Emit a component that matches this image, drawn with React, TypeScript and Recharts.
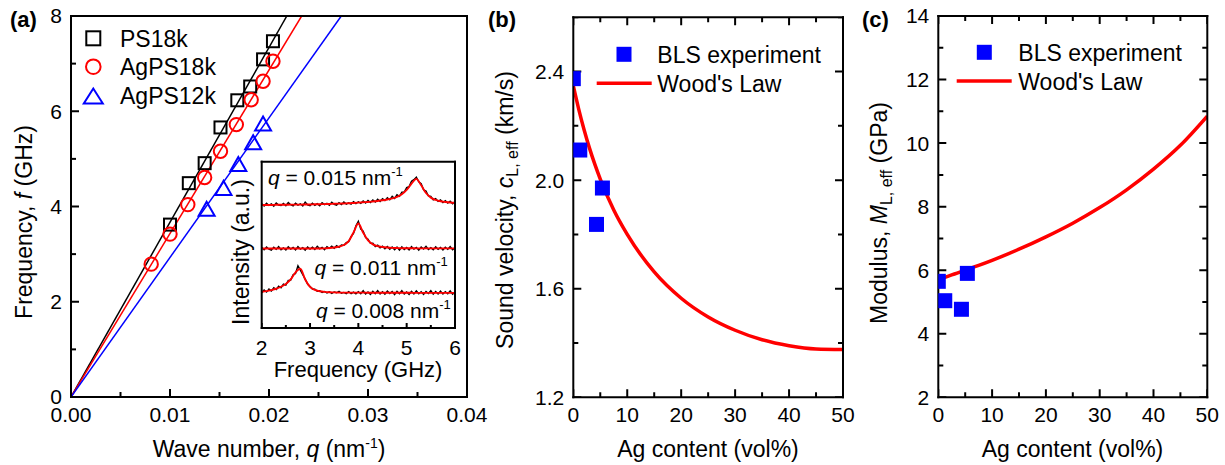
import React from "react";
import { ComposedChart, Line, Scatter, XAxis, YAxis } from "recharts";

const FONT = "'Liberation Sans', Arial, Helvetica, sans-serif";
const RED = "#ff0000";
const BLUE = "#0000ff";

// (a) dispersion, wave number q (nm^-1) -> frequency f (GHz)
const ps18kQ = [0.01, 0.0119, 0.0135, 0.0151, 0.0168, 0.0181, 0.0194, 0.0204];
const ps18kF = [3.62, 4.49, 4.91, 5.66, 6.23, 6.52, 7.09, 7.47];
const agps18kQ = [0.0081, 0.01, 0.0118, 0.0135, 0.0151, 0.0167, 0.0182, 0.0194, 0.0204];
const agps18kF = [2.79, 3.42, 4.04, 4.61, 5.16, 5.72, 6.24, 6.63, 7.05];
const agps12kQ = [0.0137, 0.0154, 0.0169, 0.0184, 0.0194];
const agps12kF = [3.93, 4.37, 4.87, 5.33, 5.72];
// linear fits through the origin
const fitF = [0, 8];
const ps18kFitQ = [0, 0.0218];
const agps18kFitQ = [0, 0.0233];
const agps12kFitQ = [0, 0.0273];

// (a) inset, BLS spectra (offset, arb. units)
const specFreq = [
  2.0, 2.05, 2.1, 2.15, 2.2, 2.25, 2.3, 2.35, 2.4, 2.45,
  2.5, 2.55, 2.6, 2.65, 2.7, 2.75, 2.8, 2.85, 2.9, 2.95,
  3.0, 3.05, 3.1, 3.15, 3.2, 3.25, 3.3, 3.35, 3.4, 3.45,
  3.5, 3.55, 3.6, 3.65, 3.7, 3.75, 3.8, 3.85, 3.9, 3.95,
  4.0, 4.05, 4.1, 4.15, 4.2, 4.25, 4.3, 4.35, 4.4, 4.45,
  4.5, 4.55, 4.6, 4.65, 4.7, 4.75, 4.8, 4.85, 4.9, 4.95,
  5.0, 5.05, 5.1, 5.15, 5.2, 5.25, 5.3, 5.35, 5.4, 5.45,
  5.5, 5.55, 5.6, 5.65, 5.7, 5.75, 5.8, 5.85, 5.9, 5.95,
  6.0,
];
const spec015 = [
  0.747, 0.734, 0.75, 0.737, 0.746, 0.733, 0.752, 0.739, 0.736, 0.749,
  0.735, 0.754, 0.741, 0.734, 0.751, 0.739, 0.747, 0.734, 0.757, 0.741,
  0.736, 0.75, 0.738, 0.748, 0.735, 0.753, 0.742, 0.75, 0.738, 0.756,
  0.744, 0.739, 0.754, 0.742, 0.758, 0.745, 0.753, 0.745, 0.76, 0.748,
  0.759, 0.75, 0.764, 0.752, 0.767, 0.755, 0.77, 0.758, 0.774, 0.761,
  0.778, 0.766, 0.783, 0.771, 0.792, 0.779, 0.801, 0.792, 0.817, 0.817,
  0.844, 0.85, 0.882, 0.892, 0.907, 0.879, 0.868, 0.831, 0.824, 0.794,
  0.792, 0.771, 0.778, 0.761, 0.77, 0.755, 0.766, 0.751, 0.762, 0.747,
  0.759,
];
const spec011 = [
  0.484, 0.47, 0.487, 0.474, 0.468, 0.486, 0.473, 0.49, 0.471, 0.482,
  0.469, 0.488, 0.475, 0.485, 0.47, 0.49, 0.474, 0.483, 0.468, 0.487,
  0.475, 0.486, 0.472, 0.491, 0.476, 0.485, 0.471, 0.489, 0.479, 0.492,
  0.48, 0.495, 0.485, 0.499, 0.497, 0.514, 0.519, 0.55, 0.569, 0.614,
  0.642, 0.595, 0.582, 0.544, 0.534, 0.509, 0.51, 0.49, 0.498, 0.482,
  0.492, 0.477, 0.49, 0.474, 0.487, 0.471, 0.486, 0.468, 0.488, 0.472,
  0.484, 0.469, 0.489, 0.474, 0.485, 0.468, 0.487, 0.475, 0.491, 0.472,
  0.483, 0.47, 0.488, 0.473, 0.485, 0.469, 0.486, 0.474, 0.489, 0.471,
  0.482,
];
const spec008 = [
  0.212, 0.228, 0.216, 0.234, 0.222, 0.242, 0.231, 0.251, 0.242, 0.264,
  0.258, 0.286, 0.288, 0.32, 0.328, 0.374, 0.348, 0.32, 0.294, 0.264,
  0.25, 0.234, 0.233, 0.221, 0.224, 0.214, 0.22, 0.211, 0.218, 0.208,
  0.217, 0.212, 0.221, 0.209, 0.214, 0.207, 0.219, 0.207, 0.216, 0.206,
  0.219, 0.206, 0.224, 0.204, 0.217, 0.202, 0.221, 0.206, 0.225, 0.205,
  0.218, 0.203, 0.222, 0.207, 0.219, 0.201, 0.22, 0.206, 0.224, 0.204,
  0.217, 0.202, 0.221, 0.205, 0.223, 0.206, 0.218, 0.202, 0.22, 0.207,
  0.224, 0.203, 0.219, 0.205, 0.222, 0.204, 0.218, 0.206, 0.223, 0.203,
  0.217,
];
const fitFreq = [
  2.0, 2.1, 2.2, 2.3, 2.4, 2.5, 2.6, 2.7, 2.8, 2.9,
  3.0, 3.1, 3.2, 3.3, 3.4, 3.5, 3.6, 3.7, 3.8, 3.9,
  4.0, 4.1, 4.2, 4.3, 4.4, 4.5, 4.6, 4.7, 4.8, 4.9,
  5.0, 5.1, 5.2, 5.3, 5.4, 5.5, 5.6, 5.7, 5.8, 5.9,
  6.0,
];
const fit015 = [
  0.74, 0.74, 0.74, 0.741, 0.741, 0.741, 0.742, 0.742, 0.742, 0.743,
  0.743, 0.744, 0.744, 0.745, 0.746, 0.747, 0.748, 0.749, 0.75, 0.752,
  0.754, 0.756, 0.758, 0.761, 0.764, 0.768, 0.773, 0.779, 0.788, 0.804,
  0.83, 0.868, 0.897, 0.858, 0.812, 0.784, 0.77, 0.762, 0.758, 0.755,
  0.753,
];
const fit011 = [
  0.478, 0.478, 0.478, 0.478, 0.478, 0.478, 0.478, 0.478, 0.478, 0.478,
  0.478, 0.478, 0.478, 0.479, 0.481, 0.484, 0.489, 0.499, 0.522, 0.575,
  0.628, 0.573, 0.527, 0.503, 0.492, 0.487, 0.484, 0.482, 0.481, 0.48,
  0.48, 0.48, 0.479, 0.479, 0.479, 0.479, 0.479, 0.479, 0.479, 0.479,
  0.479,
];
const fit008 = [
  0.218, 0.222, 0.228, 0.236, 0.248, 0.265, 0.292, 0.335, 0.356, 0.292,
  0.247, 0.229, 0.221, 0.217, 0.215, 0.214, 0.213, 0.213, 0.213, 0.213,
  0.213, 0.213, 0.212, 0.212, 0.212, 0.212, 0.212, 0.212, 0.212, 0.212,
  0.212, 0.212, 0.211, 0.211, 0.211, 0.211, 0.211, 0.211, 0.211, 0.211,
  0.211,
];

// (b), (c) BLS experiment vs Ag content (vol%)
const agContent = [0, 1.2, 4.3, 5.4];
const blsVelocity = [2.374, 2.111, 1.837, 1.971];
const blsModulus = [5.65, 5.04, 4.77, 5.9];
// Wood's law
const woodAg = [0, 1, 2, 3, 4, 5, 7.5, 10, 15, 20, 25, 30, 35, 40, 45, 50];
const woodVelocity = [2.348, 2.262, 2.186, 2.118, 2.058, 2.004, 1.89, 1.8, 1.662, 1.565, 1.496, 1.447, 1.412, 1.39, 1.378, 1.376];
const woodModulus = [5.7, 5.76, 5.82, 5.88, 5.94, 6.0, 6.15, 6.31, 6.66, 7.05, 7.48, 7.97, 8.53, 9.18, 9.93, 10.85];

// ticks
const qTicks = [0, 0.005, 0.01, 0.015, 0.02, 0.025, 0.03, 0.035, 0.04];
const qMajor = [0, 0.01, 0.02, 0.03, 0.04];
const fTicks = [0, 1, 2, 3, 4, 5, 6, 7, 8];
const fMajor = [0, 2, 4, 6, 8];
const insetTicks = [2, 2.5, 3, 3.5, 4, 4.5, 5, 5.5, 6];
const insetMajor = [2, 3, 4, 5, 6];
const agTicks = [0, 5, 10, 15, 20, 25, 30, 35, 40, 45, 50];
const agMajor = [0, 10, 20, 30, 40, 50];
const velTicks = [1.2, 1.4, 1.6, 1.8, 2.0, 2.2, 2.4, 2.6];
const velMajor = [1.2, 1.6, 2.0, 2.4];
const modTicks = [2, 3, 4, 5, 6, 7, 8, 9, 10, 11, 12, 13, 14];
const modMajor = [2, 4, 6, 8, 10, 12, 14];

const pts = (xs: number[], ys: number[]) => xs.map((x, i) => ({ x, y: ys[i] }));
const isIn = (v: number, list: number[]) => list.some((m) => Math.abs(m - v) < 1e-9);

// tick labels only
function labelRenderer(side: "bottom" | "left", majors: number[], fmt: (v: number) => string, gap: number, size = 21) {
  return (props: any) => {
    const x = Number(props.x);
    const y = Number(props.y);
    const v = props.payload.value as number;
    if (!isIn(v, majors)) return <g />;
    return side === "bottom" ? (
      <text x={x} y={y + gap} dy="0.71em" textAnchor="middle" fontSize={size} fontFamily={FONT} fill="#000" stroke="none">
        {fmt(v)}
      </text>
    ) : (
      <text x={x - gap} y={y} dy="0.355em" textAnchor="end" fontSize={size} fontFamily={FONT} fill="#000" stroke="none">
        {fmt(v)}
      </text>
    );
  };
}

const axisLine = { stroke: "#000", strokeWidth: 2, strokeLinecap: "square" as const };

type Frame = {
  xDomain: [number, number];
  yDomain: [number, number];
  xTicks: number[];
  xMajor: number[];
  yTicks: number[];
  yMajor: number[];
  xFmt: (v: number) => string;
  yFmt?: (v: number) => string;
  mirror: boolean;
  leftTicks?: boolean;
  major: number;
  minor: number;
  xGap?: number;
  yGap?: number;
};

function frameAxes(o: Frame) {
  const common = {
    type: "number" as const, allowDataOverflow: true, interval: 0 as const, axisLine, stroke: "#000",
    tickLine: false, tickSize: 0, tickMargin: 0,
  };
  return [
    <XAxis key="xb" xAxisId={0} dataKey="x" domain={o.xDomain} ticks={o.xTicks} height={1} {...common}
      tick={labelRenderer("bottom", o.xMajor, o.xFmt, o.xGap ?? 10)} />,
    <XAxis key="xt" xAxisId="top" orientation="top" domain={o.xDomain} ticks={o.xTicks} height={1} {...common} tick={false} />,
    <YAxis key="yl" yAxisId={0} dataKey="y" domain={o.yDomain} ticks={o.yTicks} width={1} {...common}
      tick={o.yFmt ? labelRenderer("left", o.yMajor, o.yFmt, o.yGap ?? 9) : false} />,
    <YAxis key="yr" yAxisId="right" orientation="right" domain={o.yDomain} ticks={o.yTicks} width={1} {...common} tick={false} />,
  ];
}

// inward tick marks: tick values sit on the frame edges and are placed by the chart's own scales
function tickMarks(o: Frame) {
  const [x0, x1] = o.xDomain;
  const [y0, y1] = o.yDomain;
  const xLen = (v: number) => (isIn(v, o.xMajor) ? o.major : o.minor);
  const yLen = (v: number) => (isIn(v, o.yMajor) ? o.major : o.minor);
  const val = (p: any, k: "x" | "y") => Number(p.payload?.[k] ?? p.node?.[k] ?? p[k]);
  const mark = (d: string) => <path d={d} stroke="#000" strokeWidth={2} fill="none" />;
  const out: React.ReactNode[] = [];
  const add = (key: string, data: { x: number; y: number }[], shape: (p: any) => React.ReactElement) =>
    out.push(<Scatter key={key} data={data} shape={shape} isAnimationActive={false} legendType="none" />);
  add("tb", o.xTicks.map((v) => ({ x: v, y: y0 })), (p) => mark(`M${p.cx},${p.cy}v${-xLen(val(p, "x"))}`));
  if (o.mirror) add("tt", o.xTicks.map((v) => ({ x: v, y: y1 })), (p) => mark(`M${p.cx},${p.cy}v${xLen(val(p, "x"))}`));
  if (o.leftTicks !== false)
    add("tl", o.yTicks.map((v) => ({ x: x0, y: v })), (p) => mark(`M${p.cx},${p.cy}h${yLen(val(p, "y"))}`));
  if (o.mirror) add("tr", o.yTicks.map((v) => ({ x: x1, y: v })), (p) => mark(`M${p.cx},${p.cy}h${-yLen(val(p, "y"))}`));
  return out;
}

const openSquare = (p: any) => <rect x={p.cx - 6} y={p.cy - 6} width={12} height={12} fill="none" stroke="#000" strokeWidth={2} />;
const openCircle = (p: any) => <circle cx={p.cx} cy={p.cy} r={6.7} fill="none" stroke={RED} strokeWidth={2} />;
const openTriangle = (p: any) => (
  <polygon points={`${p.cx},${p.cy - 8} ${p.cx - 8},${p.cy + 6} ${p.cx + 8},${p.cy + 6}`} fill="none" stroke={BLUE} strokeWidth={2} />
);
const filledSquare = (p: any) => <rect x={p.cx - 7.5} y={p.cy - 7.5} width={15} height={15} fill={BLUE} />;

function RotText({ x, y, children }: { x: number; y: number; children: React.ReactNode }) {
  return (
    <text transform={`rotate(-90 ${x} ${y})`} x={x} y={y} textAnchor="middle" fontSize={23} fontFamily={FONT} fill="#000">
      {children}
    </text>
  );
}

function Overlay() {
  const t = { fontFamily: FONT, fill: "#000" };
  return (
    <svg width={1225} height={465} style={{ position: "absolute", left: 0, top: 0, pointerEvents: "none" }}>
      {/* panel letters */}
      <text x={10} y={27} fontSize={22} fontWeight="bold" {...t}>(a)</text>
      <text x={488} y={27} fontSize={22} fontWeight="bold" {...t}>(b)</text>
      <text x={862} y={27} fontSize={22} fontWeight="bold" {...t}>(c)</text>

      {/* axis titles */}
      <RotText x={31.5} y={222}>
        Frequency, <tspan fontStyle="italic">f</tspan> (GHz)
      </RotText>
      <text x={269} y={456.5} textAnchor="middle" fontSize={23} {...t}>
        Wave number, <tspan fontStyle="italic">q</tspan> (nm<tspan dy={-9} fontSize={14}>-1</tspan>
        <tspan dy={9}>)</tspan>
      </text>
      <RotText x={512.5} y={210}>
        Sound velocity, <tspan fontStyle="italic">c</tspan>
        <tspan dy={5} fontSize={16}>L, eff</tspan>
        <tspan dy={-5}> (km/s)</tspan>
      </RotText>
      <text x={708} y={456.5} textAnchor="middle" fontSize={23} {...t}>Ag content (vol%)</text>
      <RotText x={886.5} y={213}>
        Modulus, <tspan fontStyle="italic">M</tspan>
        <tspan dy={5} fontSize={16}>L, eff</tspan>
        <tspan dy={-5}> (GPa)</tspan>
      </RotText>
      <text x={1072.5} y={456.5} textAnchor="middle" fontSize={23} {...t}>Ag content (vol%)</text>

      {/* inset titles and annotations */}
      <RotText x={249} y={252}>Intensity (a.u.)</RotText>
      <text x={358} y={376.5} textAnchor="middle" fontSize={22} {...t}>Frequency (GHz)</text>
      <text x={268} y={184.5} fontSize={21} {...t}>
        <tspan fontStyle="italic">q</tspan> = 0.015 nm<tspan dy={-9} fontSize={13}>-1</tspan>
      </text>
      <text x={314.5} y={274.5} fontSize={21} {...t}>
        <tspan fontStyle="italic">q</tspan> = 0.011 nm<tspan dy={-9} fontSize={13}>-1</tspan>
      </text>
      <text x={316} y={318} fontSize={21} {...t}>
        <tspan fontStyle="italic">q</tspan> = 0.008 nm<tspan dy={-9} fontSize={13}>-1</tspan>
      </text>

      {/* legend (a) */}
      <rect x={86.3} y={31.3} width={14} height={14} fill="none" stroke="#000" strokeWidth={2} />
      <text x={120} y={46.5} fontSize={23} {...t}>PS18k</text>
      <circle cx={93.3} cy={66.7} r={7.3} fill="none" stroke={RED} strokeWidth={2} />
      <text x={120} y={75} fontSize={23} {...t}>AgPS18k</text>
      <polygon points="93.3,88.5 83.8,103.5 102.8,103.5" fill="none" stroke={BLUE} strokeWidth={2} />
      <text x={120} y={104} fontSize={23} {...t}>AgPS12k</text>

      {/* legend (b) */}
      <rect x={616.5} y={46.8} width={15} height={15} fill={BLUE} />
      <text x={657.3} y={62.5} fontSize={23} {...t}>BLS experiment</text>
      <line x1={596.7} y1={83.3} x2={651.7} y2={83.3} stroke={RED} strokeWidth={3.5} />
      <text x={657.3} y={91.5} fontSize={23} {...t}>Wood's Law</text>

      {/* legend (c) */}
      <rect x={976.8} y={44.8} width={15} height={15} fill={BLUE} />
      <text x={1018.3} y={61} fontSize={23} {...t}>BLS experiment</text>
      <line x1={956.7} y1={81} x2={1011.7} y2={81} stroke={RED} strokeWidth={3.5} />
      <text x={1018.3} y={90} fontSize={23} {...t}>Wood's Law</text>
    </svg>
  );
}

const frameA: Frame = {
  xDomain: [0, 0.04], yDomain: [0, 8], xTicks: qTicks, xMajor: qMajor, yTicks: fTicks, yMajor: fMajor,
  xFmt: (v) => v.toFixed(2), yFmt: (v) => String(v), mirror: false, major: 8, minor: 5,
};
const frameInset: Frame = {
  xDomain: [2, 6], yDomain: [0, 1], xTicks: insetTicks, xMajor: insetMajor, yTicks: [0, 1], yMajor: [0, 1],
  xFmt: (v) => String(v), mirror: false, leftTicks: false, major: 5, minor: 3, xGap: 12,
};
const frameB: Frame = {
  xDomain: [0, 50], yDomain: [1.2, 2.6], xTicks: agTicks, xMajor: agMajor, yTicks: velTicks, yMajor: velMajor,
  xFmt: (v) => String(v), yFmt: (v) => v.toFixed(1), mirror: true, major: 8, minor: 5,
};
const frameC: Frame = {
  xDomain: [0, 50], yDomain: [2, 14], xTicks: agTicks, xMajor: agMajor, yTicks: modTicks, yMajor: modMajor,
  xFmt: (v) => String(v), yFmt: (v) => String(v), mirror: true, major: 8, minor: 5,
};

function PanelA() {
  return (
    <ComposedChart width={495} height={465} margin={{ top: 15, right: 27, bottom: 67, left: 70 }}>
      {frameAxes(frameA)}
      {tickMarks(frameA)}
      <Line data={pts(ps18kFitQ, fitF)} dataKey="y" stroke="#000" strokeWidth={1.5} dot={false} isAnimationActive={false} />
      <Line data={pts(agps18kFitQ, fitF)} dataKey="y" stroke={RED} strokeWidth={1.5} dot={false} isAnimationActive={false} />
      <Line data={pts(agps12kFitQ, fitF)} dataKey="y" stroke={BLUE} strokeWidth={1.5} dot={false} isAnimationActive={false} />
      <Scatter data={pts(ps18kQ, ps18kF)} shape={openSquare} isAnimationActive={false} />
      <Scatter data={pts(agps18kQ, agps18kF)} shape={openCircle} isAnimationActive={false} />
      <Scatter data={pts(agps12kQ, agps12kF)} shape={openTriangle} isAnimationActive={false} />
    </ComposedChart>
  );
}

function Inset() {
  return (
    <ComposedChart width={240} height={240} margin={{ top: 10.7, right: 14, bottom: 61, left: 30.7 }}>
      {frameAxes(frameInset)}
      {tickMarks(frameInset)}
      <Line data={pts(specFreq, spec015)} dataKey="y" stroke="#000" strokeWidth={1.4} dot={false} isAnimationActive={false} />
      <Line data={pts(specFreq, spec011)} dataKey="y" stroke="#000" strokeWidth={1.4} dot={false} isAnimationActive={false} />
      <Line data={pts(specFreq, spec008)} dataKey="y" stroke="#000" strokeWidth={1.4} dot={false} isAnimationActive={false} />
      <Line data={pts(fitFreq, fit015)} dataKey="y" type="monotone" stroke={RED} strokeWidth={1.9} dot={false} isAnimationActive={false} />
      <Line data={pts(fitFreq, fit011)} dataKey="y" type="monotone" stroke={RED} strokeWidth={1.9} dot={false} isAnimationActive={false} />
      <Line data={pts(fitFreq, fit008)} dataKey="y" type="monotone" stroke={RED} strokeWidth={1.9} dot={false} isAnimationActive={false} />
    </ComposedChart>
  );
}

function PanelB() {
  return (
    <ComposedChart width={378} height={465} margin={{ top: 16.3, right: 16, bottom: 66.7, left: 90.3 }}>
      {frameAxes(frameB)}
      {tickMarks(frameB)}
      <Line data={pts(woodAg, woodVelocity)} dataKey="y" type="monotone" stroke={RED} strokeWidth={3.5} dot={false} isAnimationActive={false} />
      <Scatter data={pts(agContent, blsVelocity)} shape={filledSquare} isAnimationActive={false} />
    </ComposedChart>
  );
}

function PanelC() {
  return (
    <ComposedChart width={365} height={465} margin={{ top: 15, right: 16.7, bottom: 66.7, left: 77.3 }}>
      {frameAxes(frameC)}
      {tickMarks(frameC)}
      <Line data={pts(woodAg, woodModulus)} dataKey="y" type="monotone" stroke={RED} strokeWidth={3.5} dot={false} isAnimationActive={false} />
      <Scatter data={pts(agContent, blsModulus)} shape={filledSquare} isAnimationActive={false} />
    </ComposedChart>
  );
}

export default function App() {
  return (
    <div style={{ position: "absolute", left: 0, top: 0, width: 1225, height: 465, background: "#fff", fontFamily: FONT, overflow: "hidden" }}>
      <div style={{ position: "absolute", left: 0, top: 0 }}>
        <PanelA />
      </div>
      <div style={{ position: "absolute", left: 230, top: 150 }}>
        <Inset />
      </div>
      <div style={{ position: "absolute", left: 482, top: 0 }}>
        <PanelB />
      </div>
      <div style={{ position: "absolute", left: 860, top: 0 }}>
        <PanelC />
      </div>
      <Overlay />
    </div>
  );
}
